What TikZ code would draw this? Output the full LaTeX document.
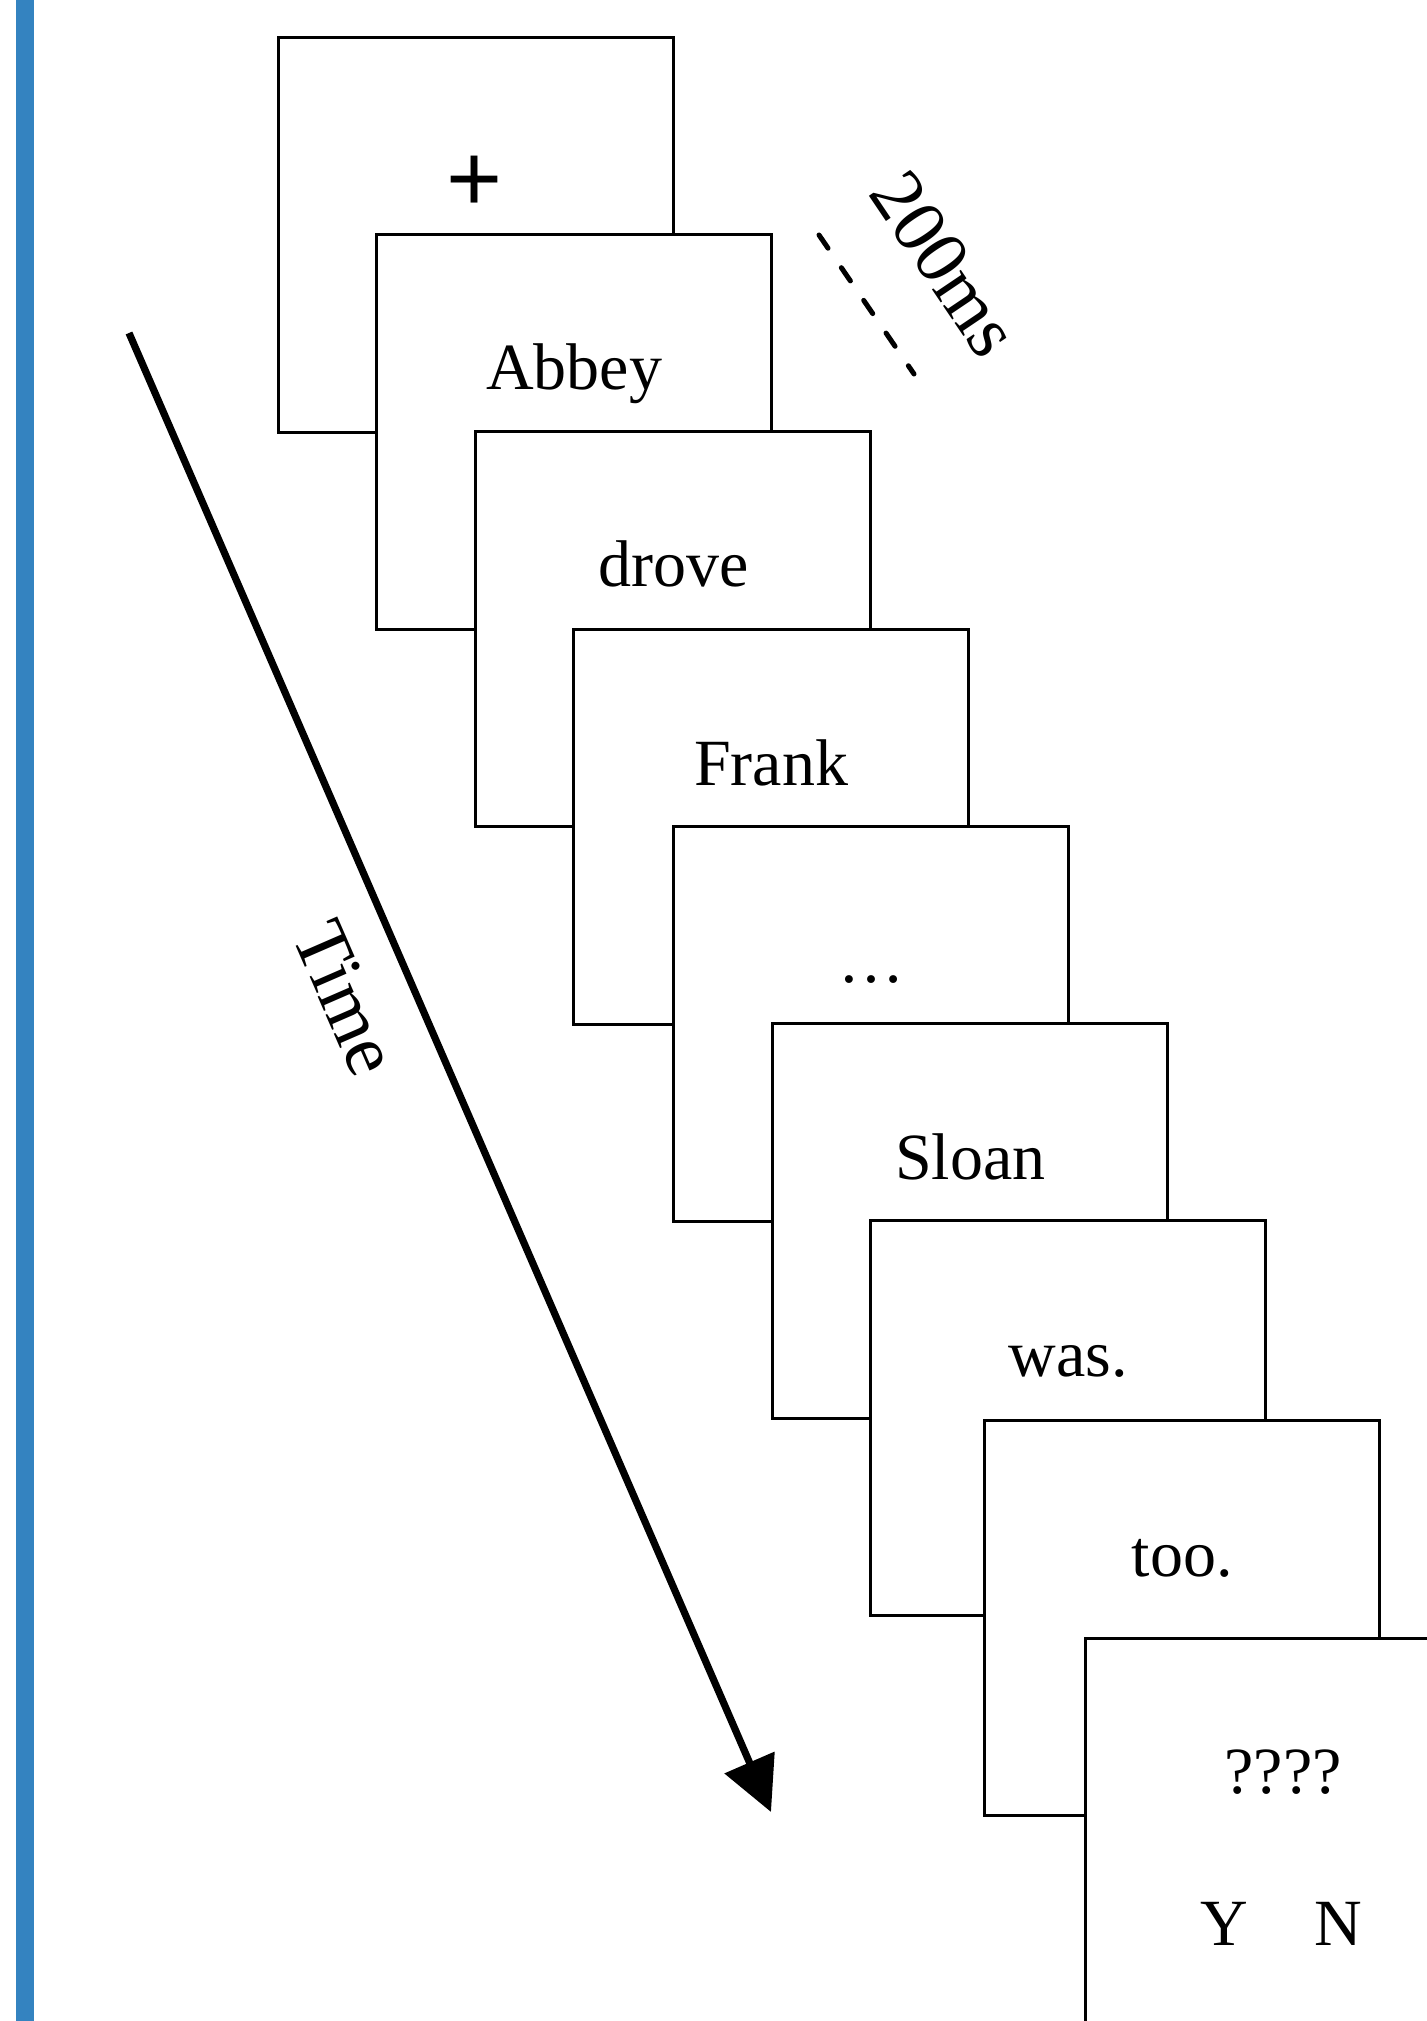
\documentclass[tikz,border=0pt]{standalone}
\usepackage{fontspec}
\setmainfont{Liberation Serif}
\newfontfamily\plusfont{Liberation Sans}
\usetikzlibrary{arrows.meta}
\definecolor{barblue}{RGB}{52,131,192}
\begin{document}
\begin{tikzpicture}[x=0.5pt,y=-0.5pt,
  frame/.style={draw=black, line width=1.7pt, fill=white, minimum width=197.5pt, minimum height=197.5pt, anchor=north west, inner sep=0},
  word/.style={font=\fontsize{33}{40}\selectfont, anchor=base, inner sep=0},
  slant/.style={font=\fontsize{38}{44}\selectfont, anchor=center, inner sep=0}]
\useasboundingbox (0,0) rectangle (1427,2021);
\clip (0,0) rectangle (1427,2021);
\fill[barblue] (16,0) rectangle (34,2021);

% frames and words
\node[frame] (b1) at (277,36) {};
\node[inner sep=0, font=\plusfont\fontsize{48}{50}\selectfont] (plus) at (474.5,183.5) {+};
\node[frame] (b2) at (375,233) {};
\node[word] (w2) at ([yshift=-78.5pt]b2.north) {Abbey};
\node[frame] (b3) at (474,430) {};
\node[word] (w3) at ([yshift=-78.5pt]b3.north) {drove};
\node[frame] (b4) at (572,628) {};
\node[word] (w4) at ([yshift=-78.5pt]b4.north) {Frank};
\node[frame] (b5) at (672,825) {};
\node[word] (w5) at ([yshift=-78.5pt]b5.north) {…};
\node[frame] (b6) at (771,1022) {};
\node[word] (w6) at ([yshift=-78.5pt]b6.north) {Sloan};
\node[frame] (b7) at (869,1219) {};
\node[word] (w7) at ([yshift=-78.5pt]b7.north) {was.};
\node[frame] (b8) at (983,1419) {};
\node[word] (w8) at ([yshift=-78.5pt]b8.north) {too.};
\node[frame] (b9) at (1084,1637) {};
\node[word] (w9) at ([yshift=-78pt]b9.north) {????};
\node[word] (yes) at (1224,1945) {Y};
\node[word] (no) at (1338,1945) {N};

% time arrow
\coordinate (ts) at (129,333);
\coordinate (te) at (771,1812);
\draw[line width=3.6pt, -{Triangle[length=27pt,width=26.5pt]}] (ts) -- (te);
\node[slant, rotate=-66.5] (time) at (346,998) {Time};

% 200ms
\coordinate (ds) at (819,235);
\coordinate (de) at (914,374);
\draw[line width=2.5pt, line cap=round, dash pattern=on 8pt off 11.8pt] (ds) -- (de);
\node[slant, rotate=-56] (ms) at (945,264) {200ms};
\end{tikzpicture}
\end{document}
